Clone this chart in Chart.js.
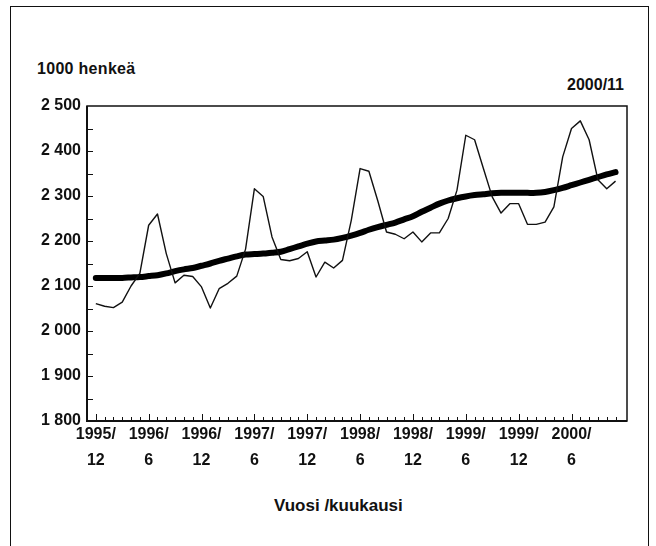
<!DOCTYPE html>
<html>
<head>
<meta charset="utf-8">
<script src="https://cdn.jsdelivr.net/npm/chart.js@4.4.1/dist/chart.umd.min.js"></script>
<style>
  body { margin: 0; background: #fff; }
  #wrap { position: relative; width: 656px; height: 546px; overflow: hidden; }
  #frame { position: absolute; left: 10px; top: 6px; width: 637px; height: 600px; border: 1.5px solid #111; }
  .txt { position: absolute; font-family: "Liberation Sans", Arial, sans-serif; font-weight: bold; color: #111; white-space: nowrap; }
  #unit { left: 37px; top: 60px; font-size: 16px; letter-spacing: 0.3px; }
  #stamp { right: 32px; top: 76px; font-size: 16px; }
  #xtitle { left: 274px; top: 496px; font-size: 17px; }
  canvas { position: absolute; left: 0; top: 0; }
</style>
</head>
<body>
<div id="wrap">
  <div id="frame"></div>
  <div class="txt" id="unit">1000 henkeä</div>
  <div class="txt" id="stamp">2000/11</div>
  <div class="txt" id="xtitle">Vuosi /kuukausi</div>
  <canvas id="chart" width="656" height="546"></canvas>
</div>
<script>
// kuukaudet 1995/12 ... 2000/11 (indeksi 0..59)
const tickIndex = [0, 6, 12, 18, 24, 30, 36, 42, 48, 54];
const tickYears = ['1995/', '1996/', '1996/', '1997/', '1997/', '1998/', '1998/', '1999/', '1999/', '2000/'];
const tickMonths = ['12', '6', '12', '6', '12', '6', '12', '6', '12', '6'];
const yTicks = [1800, 1900, 2000, 2100, 2200, 2300, 2400, 2500];

// alkuperäinen sarja (ohut viiva)
const original = [
  2061, 2055, 2052, 2064, 2100, 2128, 2235, 2260, 2172, 2107,
  2124, 2121, 2098, 2051, 2094, 2106, 2122, 2182, 2316, 2299,
  2209, 2159, 2156, 2161, 2176, 2120, 2153, 2140, 2157, 2246,
  2361, 2355, 2290, 2220, 2215, 2205, 2220, 2198, 2218, 2218,
  2250, 2313, 2435, 2425, 2361, 2298, 2262, 2283, 2283, 2237,
  2237, 2242, 2276, 2387, 2450, 2467, 2425, 2336, 2316, 2333
];
// trendi (paksu viiva)
const trend = [
  2118, 2118, 2118, 2118, 2119, 2120, 2122, 2124, 2128, 2133,
  2137, 2140, 2145, 2150, 2156, 2161, 2166, 2170, 2171, 2172,
  2174, 2176, 2182, 2188, 2194, 2199, 2201, 2203, 2207, 2212,
  2218, 2225, 2231, 2236, 2241, 2248, 2255, 2265, 2274, 2283,
  2290, 2295, 2299, 2302, 2304, 2306, 2307, 2307, 2307, 2307,
  2307, 2309, 2313, 2318, 2324, 2330, 2336, 2342, 2348, 2353
];

const tickFont = { family: '"Liberation Sans Narrow", "Liberation Sans", Arial, sans-serif', size: 16, weight: 'bold' };

// kehys ja pienet tikit piirtoalueen sisäpuolelle
const insideTicks = {
  id: 'insideTicks',
  afterDraw(chart) {
    const ctx = chart.ctx;
    const area = chart.chartArea;
    const x = chart.scales.x;
    const y = chart.scales.y;
    ctx.save();
    ctx.strokeStyle = '#111';
    ctx.lineWidth = 1.5;
    ctx.strokeRect(area.left, area.top, area.right - area.left, area.bottom - area.top);
    ctx.lineWidth = 2;
    ctx.beginPath();
    ctx.moveTo(area.left, area.top);
    ctx.lineTo(area.left, area.bottom);
    ctx.lineTo(area.right, area.bottom);
    ctx.stroke();
    ctx.lineWidth = 1;
    ctx.beginPath();
    for (let i = 0; i < original.length; i++) {
      const px = Math.round(x.getPixelForValue(i)) + 0.5;
      const len = (i % 6 === 0) ? 7 : 4;
      ctx.moveTo(px, area.bottom);
      ctx.lineTo(px, area.bottom - len);
    }
    for (let v = 1850; v < 2500; v += 50) {
      const py = Math.round(y.getPixelForValue(v)) + 0.5;
      ctx.moveTo(area.left, py);
      ctx.lineTo(area.left + 6, py);
    }
    ctx.stroke();
    ctx.restore();
  }
};

new Chart(document.getElementById('chart'), {
  type: 'line',
  data: {
    datasets: [
      {
        label: 'alkuperäinen',
        data: original.map((v, i) => ({ x: i, y: v })),
        borderColor: '#111',
        borderWidth: 1.4,
        pointRadius: 0,
        tension: 0,
        borderJoinStyle: 'round'
      },
      {
        label: 'trendi',
        data: trend.map((v, i) => ({ x: i, y: v })),
        borderColor: '#000',
        borderWidth: 6,
        pointRadius: 0,
        tension: 0.3,
        borderCapStyle: 'round',
        borderJoinStyle: 'round'
      }
    ]
  },
  options: {
    responsive: false,
    animation: false,
    devicePixelRatio: 1,
    layout: { padding: { top: 106, right: 29, left: 0, bottom: 0 } },
    plugins: { legend: { display: false }, tooltip: { enabled: false } },
    scales: {
      x: {
        type: 'linear',
        min: -1,
        max: 60.3,
        grid: { display: false, drawTicks: false },
        border: { display: false },
        afterBuildTicks(scale) {
          scale.ticks = tickIndex.map(v => ({ value: v }));
        },
        afterFit(scale) { scale.height = 125; },
        ticks: {
          autoSkip: false,
          maxRotation: 0,
          padding: 1,
          color: '#111',
          font: Object.assign({ lineHeight: 1.6 }, tickFont),
          callback(value) {
            const k = tickIndex.indexOf(value);
            return k < 0 ? '' : [tickYears[k], tickMonths[k]];
          }
        }
      },
      y: {
        min: 1800,
        max: 2500,
        grid: { display: false, drawTicks: false },
        border: { display: false },
        afterBuildTicks(scale) {
          scale.ticks = yTicks.map(v => ({ value: v }));
        },
        afterFit(scale) { scale.width = 87; },
        ticks: {
          padding: 6,
          color: '#111',
          font: tickFont,
          callback(value) {
            const s = String(value);
            return s.slice(0, 1) + ' ' + s.slice(1);
          }
        }
      }
    }
  },
  plugins: [insideTicks]
});
</script>
</body>
</html>
